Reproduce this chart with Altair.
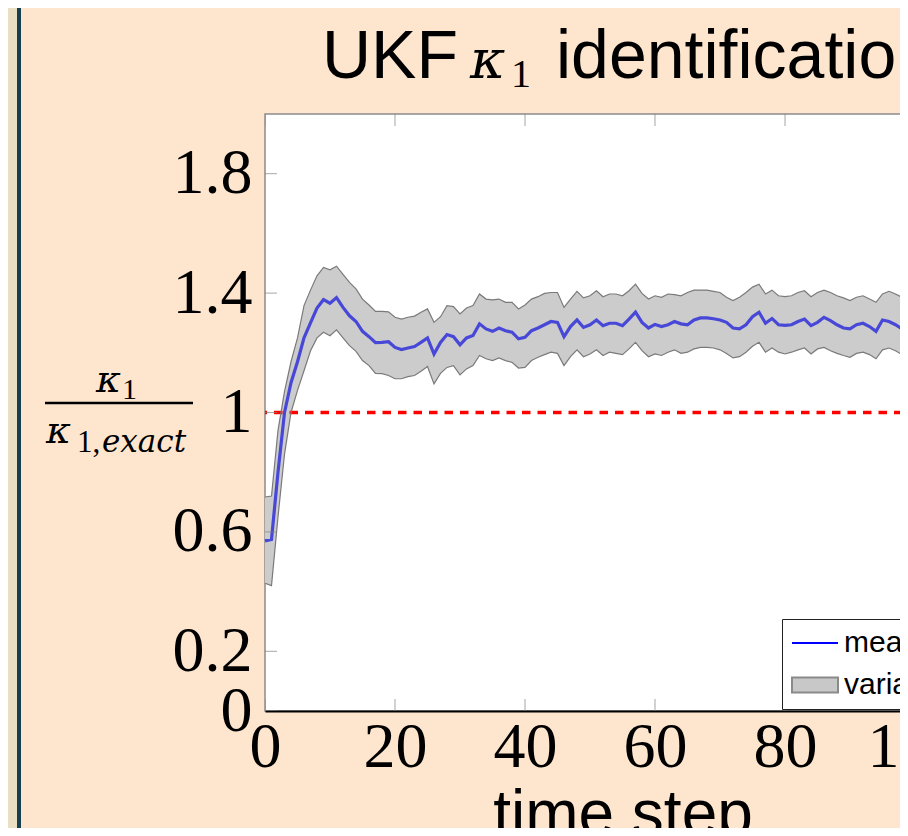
import altair as alt
import pandas as pd

# ---------------- data ----------------
t = list(range(101))
mean = [0.570, 0.575, 0.800, 1.000, 1.100, 1.170, 1.250, 1.300, 1.350, 1.378,
        1.366, 1.385, 1.352, 1.324, 1.305, 1.272, 1.254, 1.234, 1.235, 1.237,
        1.218, 1.211, 1.216, 1.221, 1.235, 1.250, 1.196, 1.235, 1.261, 1.254,
        1.227, 1.250, 1.258, 1.297, 1.280, 1.272, 1.283, 1.274, 1.269, 1.247,
        1.252, 1.274, 1.283, 1.294, 1.305, 1.302, 1.254, 1.288, 1.310, 1.285,
        1.294, 1.310, 1.291, 1.299, 1.299, 1.291, 1.313, 1.336, 1.302, 1.283,
        1.295, 1.288, 1.294, 1.305, 1.297, 1.294, 1.310, 1.317, 1.317, 1.314,
        1.310, 1.302, 1.283, 1.280, 1.294, 1.321, 1.336, 1.299, 1.315, 1.294,
        1.292, 1.294, 1.305, 1.313, 1.291, 1.302, 1.319, 1.308, 1.294, 1.283,
        1.280, 1.294, 1.299, 1.288, 1.272, 1.310, 1.305, 1.294, 1.280, 1.265,
        1.260]
upper = [0.717, 0.720, 0.940, 1.070, 1.170, 1.250, 1.358, 1.410, 1.458, 1.486,
         1.478, 1.490, 1.463, 1.436, 1.414, 1.380, 1.360, 1.339, 1.339, 1.337,
         1.319, 1.313, 1.319, 1.323, 1.336, 1.347, 1.302, 1.321, 1.358, 1.355,
         1.330, 1.350, 1.358, 1.397, 1.380, 1.377, 1.380, 1.369, 1.369, 1.347,
         1.360, 1.380, 1.388, 1.399, 1.402, 1.402, 1.352, 1.380, 1.406, 1.384,
         1.391, 1.408, 1.388, 1.397, 1.397, 1.391, 1.408, 1.430, 1.399, 1.380,
         1.391, 1.386, 1.397, 1.395, 1.391, 1.402, 1.410, 1.410, 1.410, 1.406,
         1.402, 1.386, 1.375, 1.386, 1.402, 1.420, 1.430, 1.397, 1.410, 1.391,
         1.388, 1.391, 1.402, 1.408, 1.388, 1.402, 1.410, 1.402, 1.391, 1.384,
         1.375, 1.386, 1.391, 1.380, 1.369, 1.397, 1.406, 1.397, 1.386, 1.369,
         1.360]
lower = [0.428, 0.420, 0.650, 0.860, 1.000, 1.074, 1.140, 1.207, 1.250, 1.269,
         1.257, 1.277, 1.250, 1.224, 1.205, 1.174, 1.157, 1.131, 1.130, 1.124,
         1.113, 1.113, 1.120, 1.124, 1.138, 1.154, 1.096, 1.131, 1.151, 1.157,
         1.126, 1.146, 1.157, 1.191, 1.180, 1.174, 1.183, 1.174, 1.168, 1.149,
         1.151, 1.174, 1.185, 1.194, 1.202, 1.198, 1.157, 1.187, 1.210, 1.187,
         1.196, 1.210, 1.191, 1.202, 1.198, 1.194, 1.213, 1.235, 1.207, 1.187,
         1.196, 1.191, 1.202, 1.210, 1.198, 1.202, 1.213, 1.218, 1.218, 1.216,
         1.210, 1.198, 1.183, 1.187, 1.202, 1.222, 1.235, 1.202, 1.216, 1.202,
         1.196, 1.202, 1.210, 1.216, 1.196, 1.213, 1.218, 1.207, 1.198, 1.191,
         1.185, 1.198, 1.202, 1.194, 1.180, 1.210, 1.216, 1.207, 1.194, 1.177,
         1.170]
x_ticks = [0, 20, 40, 60, 80, 100]
y_ticks = [0, 0.2, 0.6, 1, 1.4, 1.8]
ref_level = [1.0]
legend_items = ["mean", "variance"]
x_domain = [0, 110]
y_domain = [0, 2]

df = pd.DataFrame({"t": t, "mean": mean, "upper": upper, "lower": lower})
ref_df = pd.DataFrame({"v": ref_level})
xt_df = pd.DataFrame({"v": x_ticks})
yt_df = pd.DataFrame({"v": y_ticks})
leg_df = pd.DataFrame({"series": legend_items})
one = pd.DataFrame({"k": [0]})

SERIF = "Liberation Serif"
MATH = "DejaVu Serif"
SANS = "Liberation Sans"

xs = alt.Scale(domain=x_domain, nice=False, zero=False)
ys = alt.Scale(domain=y_domain, nice=False, zero=False)
x_axis = alt.Axis(values=x_ticks, format="d", title="time step", labelFont=SERIF,
                  labelFontSize=64, labelColor="black", labelPadding=4, ticks=False,
                  domainColor="black", domainWidth=2, grid=False, labelOverlap=False,
                  labelFlush=False, titleFont=SANS, titleFontSize=64,
                  titleFontWeight="normal", titleColor="black", titlePadding=4)
y_axis = alt.Axis(values=y_ticks, format=".1~f", title=None, labelFont=SERIF,
                  labelFontSize=64, labelColor="black", labelPadding=13, ticks=False,
                  domain=False, grid=False, labelOverlap=False, labelFlush=False)

band = alt.Chart(df).mark_area(color="#cccccc", opacity=1).encode(
    x=alt.X("t:Q", scale=xs, axis=x_axis),
    y=alt.Y("lower:Q", scale=ys, axis=y_axis),
    y2="upper:Q",
)
ref = alt.Chart(ref_df).mark_rule(color="#ff0000", strokeWidth=3.5, strokeDash=[8.5, 7]).encode(
    y=alt.Y("v:Q", scale=ys, axis=y_axis)
)
up_line = alt.Chart(df).mark_line(color="#7a7a7a", strokeWidth=1.2).encode(
    x=alt.X("t:Q", scale=xs, axis=x_axis), y=alt.Y("upper:Q", scale=ys, axis=y_axis))
lo_line = alt.Chart(df).mark_line(color="#7a7a7a", strokeWidth=1.2).encode(
    x=alt.X("t:Q", scale=xs, axis=x_axis), y=alt.Y("lower:Q", scale=ys, axis=y_axis))
mean_line = alt.Chart(df).mark_line(color="#4848d8", strokeWidth=3.2).encode(
    x=alt.X("t:Q", scale=xs, axis=x_axis), y=alt.Y("mean:Q", scale=ys, axis=y_axis))

# inward ticks (half of each centred tick is clipped away)
yticks_left = alt.Chart(yt_df).mark_tick(orient="horizontal", size=24, thickness=1,
                                         color="#808080", clip=True).encode(
    x=alt.XDatum(0, scale=xs, axis=x_axis), y=alt.Y("v:Q", scale=ys, axis=y_axis))
xticks_bottom = alt.Chart(xt_df).mark_tick(orient="vertical", size=24, thickness=1,
                                           color="#808080", clip=True).encode(
    x=alt.X("v:Q", scale=xs, axis=x_axis), y=alt.YDatum(0, scale=ys, axis=y_axis))
xticks_top = alt.Chart(xt_df).mark_tick(orient="vertical", size=24, thickness=1,
                                        color="#808080", clip=True).encode(
    x=alt.X("v:Q", scale=xs, axis=x_axis), y=alt.YDatum(2, scale=ys, axis=y_axis))

# legend (native), driven by an invisible clipped point layer
leg = alt.Legend(title=None, orient="none", legendX=517, legendY=505,
                 labelFont=SANS, labelFontSize=30, labelColor="black",
                 symbolSize=529, symbolStrokeWidth=2, symbolOffset=9,
                 labelOffset=14, padding=9, rowPadding=12,
                 fillColor="white", strokeColor="#222222",
                 labelExpr="datum.label == 'mean' ? '\u2002\u2009mean' : datum.label")
legend_layer = alt.Chart(leg_df).mark_point(clip=True, opacity=1).encode(
    x=alt.value(-5000), y=alt.value(-5000),
    fill=alt.Fill("series:N", scale=alt.Scale(domain=legend_items, range=["transparent", "#c8c8c8"]), legend=leg),
    stroke=alt.Stroke("series:N", scale=alt.Scale(domain=legend_items, range=["#0000ff", "#8a8a8a"]), legend=leg),
    shape=alt.Shape("series:N", scale=alt.Scale(domain=legend_items, range=["M-2,0H2", "M-2,-0.65H2V0.65H-2Z"]), legend=leg),
)


def txt(s, x, y, size, font, style="normal"):
    return alt.Chart(one).mark_text(text=s, font=font, fontSize=size, fontStyle=style,
                                    align="left", baseline="alphabetic", color="black").encode(
        x=alt.value(x), y=alt.value(y))


title_parts = [
    txt("UKF", 57, -36, 68, SANS),
    txt("κ", 205, -36, 54, MATH, "italic"),
    txt("1", 246, -27, 40, SERIF),
    txt("identification", 291, -36, 68, SANS),
]
ylab_parts = [
    txt("κ", -169, 278, 38, MATH, "italic"),
    txt("1", -143, 285, 30, SERIF),
    txt("κ", -219, 329, 38, MATH, "italic"),
    txt("1,", -188, 338, 31, SERIF),
    txt("exact", -163, 338, 31, MATH, "italic"),
]
frac_bar = alt.Chart(one).mark_rule(color="black", strokeWidth=2.5).encode(
    x=alt.value(-220), x2=alt.value(-72), y=alt.value(289))

strip = alt.Chart(one).mark_rect(color="#E9DFC2").encode(
    x=alt.value(-257), x2=alt.value(-248), y=alt.value(-106), y2=alt.value(760))
strip_line = alt.Chart(one).mark_rect(color="#173F4E").encode(
    x=alt.value(-248), x2=alt.value(-244), y=alt.value(-106), y2=alt.value(760))

chart = alt.layer(
    band, ref, up_line, lo_line, mean_line,
    yticks_left, xticks_bottom, xticks_top,
    legend_layer, *title_parts, *ylab_parts, frac_bar, strip, strip_line,
).properties(
    width=715, height=597, background="#FEE6CE",
    padding={"left": 257, "top": 106, "right": -80, "bottom": 117},
    autosize=alt.AutoSizeParams(type="none"),
).configure_view(stroke="#8c8c8c", strokeWidth=1.5, fill="white")

chart.save("out.html", embed_options={"renderer": "svg", "actions": False})
